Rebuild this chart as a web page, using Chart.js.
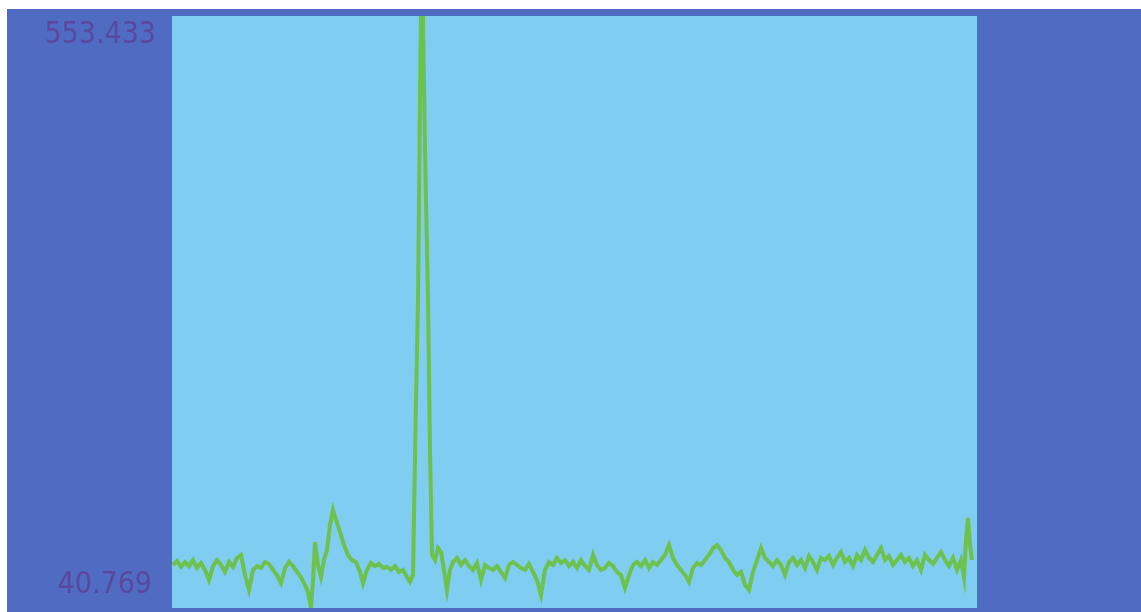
<!DOCTYPE html>
<html>
<head>
<meta charset="utf-8">
<script src="https://cdn.jsdelivr.net/npm/chart.js@4/dist/chart.umd.min.js"></script>
<style>
  html, body { margin: 0; padding: 0; background: #ffffff; }
  #wrap {
    position: absolute; left: 7px; top: 9px; width: 1134px; height: 603px;
    background: #4f6bc2;
  }
</style>
</head>
<body>
<div id="wrap"><canvas id="trace"></canvas></div>
<script>
// sample positions and signal values
const sampleX = [
  1, 5, 9, 13, 17, 21, 25, 29, 33, 37, 41, 45, 49, 53, 57, 61, 65, 69, 73, 77,
  81, 85, 89, 93, 97, 101, 105, 109, 113, 117, 121, 125, 129, 133, 136, 139, 141, 143, 146, 149,
  152, 155, 158, 161, 164, 168, 172, 176, 180, 184, 188, 191, 195, 199, 203, 207, 211, 215, 219, 223,
  227, 231, 235, 238, 241, 244, 246, 248, 249, 251, 253, 256, 258, 260, 263, 266, 269, 272, 275, 278,
  281, 285, 289, 293, 297, 301, 305, 309, 313, 317, 321, 325, 329, 333, 337, 341, 345, 349, 353, 357,
  361, 365, 369, 373, 377, 381, 385, 389, 393, 397, 401, 405, 409, 413, 417, 421, 425, 429, 433, 437,
  441, 445, 449, 453, 457, 461, 465, 469, 473, 477, 481, 485, 489, 493, 497, 501, 505, 509, 513, 517,
  521, 525, 529, 533, 537, 541, 545, 549, 553, 557, 561, 565, 569, 573, 577, 581, 585, 589, 593, 597,
  601, 605, 609, 613, 617, 621, 625, 629, 633, 637, 641, 645, 649, 653, 657, 661, 665, 669, 673, 677,
  681, 685, 689, 693, 697, 701, 705, 709, 713, 717, 721, 725, 729, 733, 737, 741, 745, 749, 753, 757,
  761, 765, 769, 773, 777, 781, 785, 789, 792, 794, 796, 798, 800
];
const signal = [
  78.0, 81.5, 76.3, 80.6, 77.1, 82.3, 75.4, 79.7, 73.7, 65.0, 77.1, 82.3, 78.0, 72.0, 80.6, 76.3, 84.1, 86.7, 69.3, 56.4,
  73.7, 77.1, 75.4, 80.6, 78.9, 73.7, 69.3, 62.4, 75.4, 80.6, 77.1, 72.0, 67.6, 60.7, 54.6, 40.8, 65.0, 97.9, 78.0, 67.6,
  82.3, 91.0, 112.6, 125.6, 117.0, 106.6, 95.3, 86.7, 82.3, 80.6, 72.0, 62.4, 73.7, 79.7, 77.1, 78.9, 75.4, 76.3, 73.7, 77.1,
  72.0, 73.7, 67.6, 63.3, 69.3, 220.9, 307.5, 480.7, 553.4, 553.4, 437.4, 307.5, 177.6, 86.7, 82.3, 92.7, 89.3, 73.7, 56.4, 73.7,
  80.6, 84.1, 78.0, 82.3, 77.1, 73.7, 79.7, 65.0, 78.0, 75.4, 73.7, 77.1, 72.0, 66.7, 78.0, 80.6, 78.0, 75.4, 73.7, 78.9,
  72.0, 65.0, 52.0, 73.7, 80.6, 78.0, 84.1, 79.7, 82.3, 77.1, 80.6, 75.4, 82.3, 77.1, 73.7, 86.7, 78.0, 73.7, 75.4, 79.7,
  77.1, 72.0, 69.3, 58.1, 69.3, 78.0, 80.6, 77.1, 82.3, 75.4, 80.6, 78.0, 82.3, 86.7, 95.3, 84.1, 78.0, 73.7, 69.3, 63.3,
  75.4, 79.7, 78.0, 82.3, 86.7, 92.7, 95.3, 91.0, 84.1, 80.6, 73.7, 69.3, 72.0, 60.7, 56.4, 72.0, 82.3, 92.7, 84.1, 80.6,
  77.1, 82.3, 78.0, 69.3, 80.6, 84.1, 78.0, 82.3, 75.4, 85.8, 80.6, 73.7, 84.1, 82.3, 85.8, 78.0, 84.1, 89.3, 80.6, 84.1,
  77.1, 86.7, 82.3, 91.0, 84.1, 80.6, 86.7, 92.7, 82.3, 85.8, 78.0, 82.3, 86.7, 80.6, 84.1, 77.1, 82.3, 73.7, 86.7, 82.3,
  78.9, 84.1, 89.3, 82.3, 77.1, 84.1, 73.7, 82.3, 67.6, 99.7, 118.7, 95.3, 82.3
];
const yMin = 40.769;
const yMax = 553.433;
const yLabels = ["553.433", "40.769"];

const points = sampleX.map((x, i) => ({ x, y: signal[i] }));

// light blue plot area
const plotBg = {
  id: "plotBg",
  beforeDraw(chart) {
    const { ctx, chartArea: a } = chart;
    ctx.save();
    ctx.fillStyle = "#7fcdf0";
    ctx.fillRect(a.left, a.top, a.right - a.left, a.bottom - a.top);
    ctx.restore();
  },
};

// max / min labels, inset from the ends of the axis
const edgeLabels = {
  id: "edgeLabels",
  afterDraw(chart) {
    const { ctx, chartArea: a } = chart;
    ctx.save();
    ctx.font = "30px 'Liberation Sans Narrow', 'DejaVu Sans Condensed', sans-serif";
    ctx.fillStyle = "#5a47a0";
    ctx.textAlign = "right";
    ctx.textBaseline = "middle";
    ctx.fillText(yLabels[0], a.left - 16, a.top + 19);
    ctx.fillText(yLabels[1], a.left - 20, a.bottom - 23);
    ctx.restore();
  },
};

new Chart(document.getElementById("trace"), {
  type: "line",
  data: {
    datasets: [
      {
        data: points,
        borderColor: "#6cc24c",
        borderWidth: 4,
        pointRadius: 0,
        tension: 0,
        fill: false,
      },
    ],
  },
  options: {
    responsive: true,
    maintainAspectRatio: false,
    animation: false,
    layout: { padding: { left: 165, top: 7, right: 164, bottom: 4 } },
    plugins: { legend: { display: false }, tooltip: { enabled: false } },
    scales: {
      x: { type: "linear", min: 0, max: 805, display: false },
      y: { min: yMin, max: yMax, display: false },
    },
  },
  plugins: [plotBg, edgeLabels],
});
</script>
</body>
</html>
